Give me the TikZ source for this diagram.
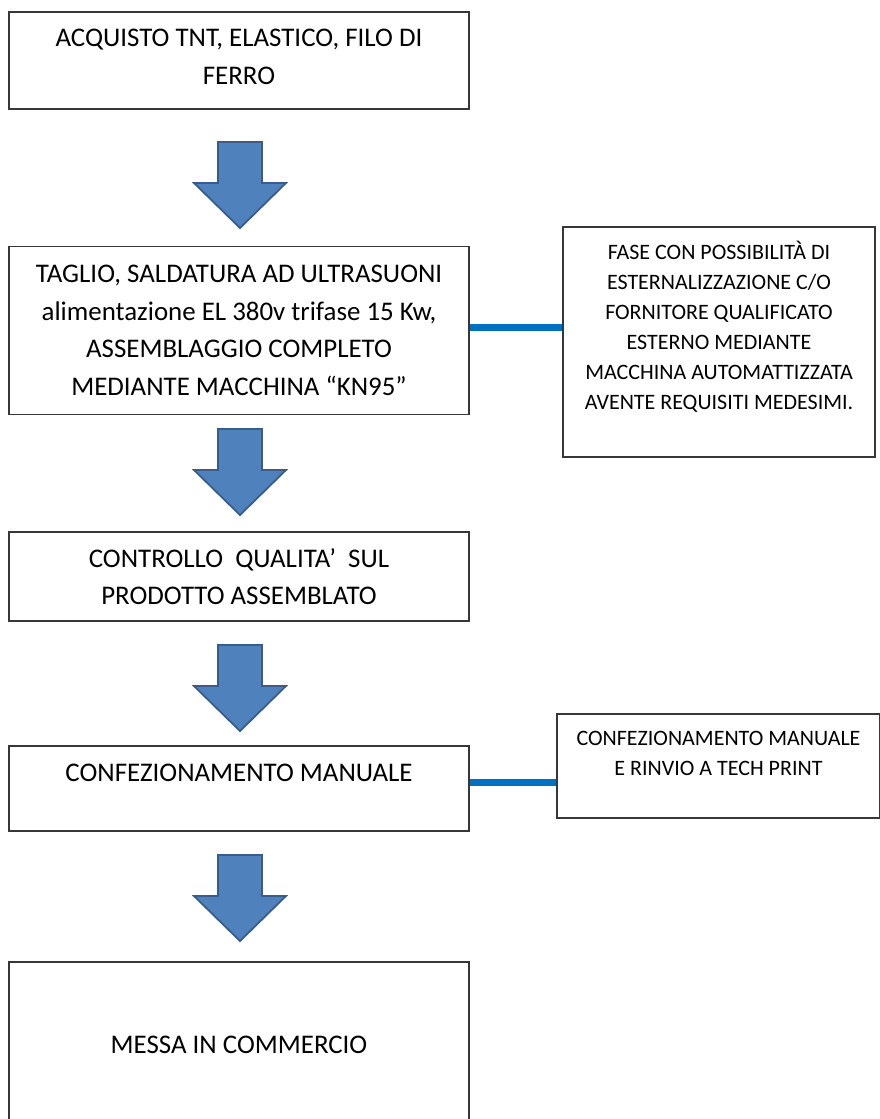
\documentclass[tikz,border=0pt]{standalone}
\usepackage{fontspec}
\setmainfont{Carlito}
\usepackage{tikz}
\usepackage{xcolor}
\definecolor{freccia}{RGB}{79,129,189}
\definecolor{bordofreccia}{RGB}{56,93,138}
\definecolor{linea}{RGB}{0,112,192}
\definecolor{bordo}{RGB}{55,55,55}

\begin{document}
\begin{tikzpicture}[x=1pt,y=-1pt,
  fase/.style={draw=bordo,line width=1.6pt,minimum width=460pt,align=center,inner sep=0pt,
    font=\fontsize{26.9}{37.5}\selectfont},
  nota/.style={draw=bordo,line width=1.6pt,align=center,inner sep=0pt,
    font=\fontsize{22}{30}\selectfont},
  giu/.style={fill=freccia,draw=bordofreccia,line width=1.8pt,line join=miter},
  link/.style={linea,line width=7pt}]
 \useasboundingbox (0,0) rectangle (880,1119);

 \node[fase,minimum height=97pt] (acquisto) at (239,60.5) {ACQUISTO TNT, ELASTICO, FILO DI\\[0.5pt]FERRO\\[-40.5pt]\strut};
 \node[fase,minimum height=168pt] (taglio) at (239,330.5) {TAGLIO, SALDATURA AD ULTRASUONI\\alimentazione EL 380v trifase 15 Kw,\\ASSEMBLAGGIO COMPLETO\\MEDIANTE MACCHINA “KN95”};
 \node[fase,minimum height=89pt] (controllo) at (239,576.5) {CONTROLLO\ \ QUALITA’\ \ SUL\\PRODOTTO ASSEMBLATO};
 \node[fase,minimum height=85pt] (confez) at (239,788.5) {CONFEZIONAMENTO MANUALE\\[-18pt]\strut};
 \node[fase,minimum height=166pt] (commercio) at (239,1045) {MESSA IN COMMERCIO};

 \node[nota,minimum width=312pt,minimum height=230pt] (esterno) at (719,342) {FASE CON POSSIBILITÀ DI\\ESTERNALIZZAZIONE C/O\\FORNITORE QUALIFICATO\\ESTERNO MEDIANTE\\MACCHINA AUTOMATTIZZATA\\AVENTE REQUISITI MEDESIMI.\\[-6pt]\strut};
 \node[nota,minimum width=323pt,minimum height=104pt] (techprint) at (718.5,766) {CONFEZIONAMENTO MANUALE\\E RINVIO A TECH PRINT\\[-13pt]\strut};

 % frecce blu
 \foreach \y in {142,429,645,855}
   \draw[giu] (218,\y) -- ++(44,0) -- ++(0,41) -- ++(24,0) -- ++(-46,45) -- ++(-46,-45) -- ++(24,0) -- cycle;

 \draw[link] ([yshift=3.5pt]taglio.east) -- ([yshift=3.5pt]taglio.east -| esterno.west);
 \draw[link] ([yshift=6.5pt]confez.east) -- ([yshift=6.5pt]confez.east -| techprint.west);
\end{tikzpicture}
\end{document}
